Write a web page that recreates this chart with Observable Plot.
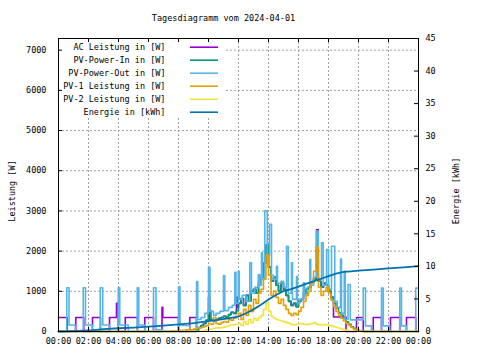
<!DOCTYPE html>
<html><head><meta charset="utf-8">
<script src="https://cdn.jsdelivr.net/npm/d3@7"></script>
<script src="https://cdn.jsdelivr.net/npm/@observablehq/plot@0.6"></script>
<style>
body{margin:0;background:#fff}
#chart svg{display:block;background:#fff}
</style></head><body><div id="chart"></div>
<script>
const title = "Tagesdiagramm vom 2024-04-01";
const yLabelLeft = "Leistung [W]";
const yLabelRight = "Energie [kWh]";
const xTicks = [0,2,4,6,8,10,12,14,16,18,20,22,24];
const xTickLabels = ["00:00","02:00","04:00","06:00","08:00","10:00","12:00","14:00","16:00","18:00","20:00","22:00","00:00"];
const powerTicks = [0,1000,2000,3000,4000,5000,6000,7000];
const energyTicks = [0,5,10,15,20,25,30,35,40,45];
const powerMax = 7290;
const energyMax = 45;
const seriesNames = ["AC Leistung in [W]","PV-Power-In in [W]","PV-Power-Out in [W]","PV-1 Leistung in [W]","PV-2 Leistung in [W]","Energie in [kWh]"];
const seriesColors = ["#9400d3","#009e73","#56b4e9","#e69f00","#f0e442","#0072b2"];

const acLeistung = [["00:00",350],["00:35",0],["01:09",350],["01:41",0],["02:16",350],["02:48",0],["03:24",350],["03:52",700],["03:59",0],["04:27",350],["05:16",0],["05:45",350],["06:20",0],["06:54",600],["06:57",350],["08:00",0],["08:45",350],["09:12",30],["09:20",100],["09:30",150],["09:40",200],["09:50",280],["10:00",850],["10:05",300],["10:20",260],["10:30",300],["10:40",330],["10:50",350],["11:00",380],["11:10",350],["11:20",420],["11:30",480],["11:40",450],["11:52",850],["11:57",600],
["12:00",700],["12:10",820],["12:20",650],["12:30",900],["12:40",760],["12:50",1000],["13:00",1050],["13:10",950],["13:20",1200],["13:30",1350],["13:40",1700],["13:50",2150],["14:00",1600],["14:10",1250],["14:20",1350],["14:30",1150],["14:40",1000],["14:50",1200],["15:00",1050],["15:10",900],["15:20",750],["15:30",650],["15:40",700],["15:50",620],["16:00",750],["16:10",800],["16:20",950],["16:30",1050],["16:40",1100],["16:50",1200],["17:00",1300],["17:12",2530],["17:19",1250],["17:30",1100],["17:40",1200],["17:50",1150],["18:00",1000],["18:10",850],["18:20",360],["19:10",0],["19:52",350],["20:19",0],["20:59",350],["21:32",0],["22:08",350],["22:45",0],["23:12",350],["23:49",0],["24:00",0]];

const pvPowerIn = [["00:00",0],["09:10",30],["09:20",100],["09:30",150],["09:40",200],["09:50",280],["10:00",520],["10:10",300],["10:20",260],["10:30",300],["10:40",330],["10:50",350],["11:00",380],["11:10",350],["11:20",420],["11:30",480],["11:40",450],["11:50",520],["12:00",700],["12:10",820],["12:20",650],["12:30",900],["12:40",760],["12:50",1000],["13:00",1050],["13:10",950],["13:20",1200],["13:30",1350],["13:40",1700],["13:50",2150],["14:00",1600],["14:10",1250],["14:20",1350],["14:30",1150],["14:40",1000],["14:50",1200],["15:00",1050],["15:10",900],["15:20",750],["15:30",650],["15:40",700],["15:50",620],["16:00",750],["16:10",800],["16:20",950],["16:30",1050],["16:40",1100],["16:50",1200],["17:00",1300],["17:10",1350],["17:20",1250],["17:30",1100],["17:40",1200],["17:50",1150],["18:00",1000],["18:10",850],["18:20",700],["18:30",580],["18:40",470],["18:50",400],["19:00",320],["19:10",240],["19:20",180],["19:30",120],["19:40",80],["19:50",45],["20:00",25],["20:10",8],["20:20",0],["24:00",0]];

const pvPowerOut = [["00:00",0],["00:33",1090],["00:42",160],["01:07",0],["01:39",1090],["01:48",160],["02:15",0],["02:47",1090],["02:57",160],["03:24",0],["03:59",1090],["04:05",160],["04:39",0],["05:15",1090],["05:21",160],["05:45",0],["06:20",1090],["06:30",40],["06:57",0],["08:00",1110],["08:06",150],["08:45",0],["09:12",1240],["09:17",300],["09:30",350],["09:45",450],["10:00",1600],["10:06",500],["10:20",400],["10:30",450],["10:45",500],["11:00",1390],["11:05",520],["11:20",600],["11:35",650],["11:45",1470],["11:50",700],["11:59",1500],["12:03",800],["12:15",900],["12:30",750],["12:45",1710],["12:52",950],["13:05",1100],["13:19",1420],["13:25",1150],["13:32",1960],["13:36",1300],["13:45",3000],["13:55",1900],["14:04",2670],["14:12",1400],["14:20",1300],["14:32",1620],["14:36",1200],["14:50",1250],["15:00",1100],["15:12",2120],["15:19",950],["15:32",1710],["15:36",800],["15:52",1370],["15:56",700],["16:05",800],["16:19",1210],["16:25",900],["16:35",1100],["16:45",1790],["16:49",1150],["17:00",1350],["17:12",2500],["17:19",1300],["17:32",2210],["17:39",1150],["17:52",2040],["18:00",1050],["18:12",2120],["18:25",750],["18:35",600],["18:48",1800],["18:52",450],["19:03",1500],["19:07",300],["19:18",1170],["19:27",290],["20:19",1080],["20:28",140],["20:52",0],["21:32",1080],["21:39",140],["22:05",0],["22:45",1080],["22:52",140],["23:12",0],["23:49",1080],["24:00",1080]];

const pv1Leistung = [["00:00",0],["07:30",20],["08:00",30],["08:30",40],["09:00",60],["09:10",80],["09:20",90],["09:30",100],["09:40",120],["09:50",150],["10:00",200],["10:10",180],["10:20",350],["10:30",200],["10:40",180],["10:50",220],["11:00",250],["11:10",230],["11:20",300],["11:30",280],["11:40",330],["11:50",380],["12:00",450],["12:10",300],["12:20",550],["12:30",400],["12:40",650],["12:50",500],["13:00",800],["13:10",700],["13:20",950],["13:30",1050],["13:40",1300],["13:50",1900],["14:00",1400],["14:10",900],["14:20",1000],["14:30",850],["14:40",700],["14:50",800],["15:00",650],["15:10",550],["15:20",450],["15:30",400],["15:40",450],["15:50",420],["16:00",500],["16:10",600],["16:20",750],["16:30",900],["16:40",1000],["16:50",1200],["17:00",1500],["17:10",2100],["17:20",1100],["17:30",900],["17:40",1000],["17:50",1100],["18:00",950],["18:10",780],["18:20",620],["18:30",500],["18:40",400],["18:50",330],["19:00",260],["19:10",200],["19:20",150],["19:30",100],["19:40",60],["19:50",35],["20:00",15],["20:10",0],["24:00",0]];

const pv2Leistung = [["00:00",0],["09:30",10],["09:40",20],["09:50",40],["10:00",60],["10:10",70],["10:20",80],["10:30",90],["10:40",90],["10:50",100],["11:00",110],["11:10",130],["11:20",150],["11:30",160],["11:40",170],["11:50",180],["12:00",200],["12:10",150],["12:20",250],["12:30",180],["12:40",300],["12:50",220],["13:00",330],["13:10",280],["13:20",350],["13:30",400],["13:40",550],["13:50",700],["14:00",500],["14:10",380],["14:20",330],["14:30",300],["14:40",280],["14:50",260],["15:00",240],["15:10",220],["15:20",200],["15:30",170],["15:40",160],["15:50",180],["16:00",200],["16:10",190],["16:20",180],["16:30",170],["16:40",180],["16:50",200],["17:00",220],["17:10",180],["17:20",170],["17:30",160],["17:40",170],["17:50",160],["18:00",150],["18:10",140],["18:20",120],["18:30",100],["18:40",80],["18:50",60],["19:00",40],["19:10",30],["19:20",20],["19:30",10],["19:40",0],["24:00",0]];

const energie = [["00:00",0],["01:00",0.05],["02:00",0.15],["03:00",0.35],["04:00",0.5],["05:00",0.6],["06:00",0.75],["07:00",0.9],["08:00",1.1],["09:00",1.3],["10:00",1.6],["11:00",1.9],["12:00",2.3],["12:30",2.8],["13:00",3.4],["13:30",4.1],["14:00",4.9],["14:30",5.6],["15:00",6.2],["15:30",6.5],["16:00",6.9],["16:30",7.3],["17:00",7.7],["17:30",8.1],["18:00",8.5],["18:30",8.9],["19:00",9.15],["19:30",9.25],["20:00",9.35],["21:00",9.5],["22:00",9.7],["23:00",9.85],["24:00",10.05]];

// ---- layout helpers ----
const W = 480, H = 360, mL = 58, mR = 62, mT = 38, mB = 29;
const plotW = W - mL - mR, plotH = H - mT - mB;
const eScale = powerMax / energyMax;
const toH = s => { const [h, m] = s.split(":").map(Number); return h + m / 60; };
const rows = (arr, f = 1) => arr.map(([t, v]) => ({h: toH(t), v: v * f}));
const hx = px => (px - mL) / plotW * 24;          // pixel -> hours
const vy = px => (H - mB - px) / plotH * powerMax; // pixel -> watts
const hPerPx = 24 / plotW, wPerPx = powerMax / plotH;

const lineSeries = [acLeistung, pvPowerIn, pvPowerOut, pv1Leistung, pv2Leistung];
const legend = seriesNames.map((name, i) => ({name, color: seriesColors[i], y: vy(46.7 + 13 * i)}));

const font = "'DejaVu Sans Mono', monospace";
const grid = {stroke: "#a0a0a0", strokeDasharray: "2,2", strokeWidth: 1};

const marks = [
  Plot.ruleX(xTicks.slice(1, -1), {...grid}),
  Plot.ruleY(powerTicks.slice(1), {...grid}),
  Plot.rect([0], {x1: 0, x2: hx(225), y1: vy(116), y2: powerMax, fill: "white"}),
  ...lineSeries.map((s, i) => Plot.line(rows(s), {x: "h", y: "v", stroke: seriesColors[i], strokeWidth: 1.6, curve: "step-after"})),
  Plot.line(rows(energie, eScale), {x: "h", y: "v", stroke: seriesColors[5], strokeWidth: 1.8}),
  // legend
  Plot.text(legend, {x: hx(165), y: "y", text: "name", textAnchor: "end", fontSize: 8.5, fill: "black"}),
  Plot.ruleY(legend, {y: "y", x1: hx(190), x2: hx(218), stroke: "color", strokeWidth: 1.6}),
  // inward ticks
  Plot.ruleY(powerTicks, {x1: 0, x2: 4 * hPerPx, stroke: "black"}),
  Plot.ruleY(energyTicks.map(k => k * eScale), {x1: 24 - 4 * hPerPx, x2: 24, stroke: "black"}),
  Plot.ruleX(xTicks, {y1: 0, y2: 4 * wPerPx, stroke: "black"}),
  Plot.ruleX(xTicks, {y1: powerMax - 4 * wPerPx, y2: powerMax, stroke: "black"}),
  Plot.frame({stroke: "black"}),
  // axes
  Plot.axisX(xTicks, {tickSize: 0, tickPadding: 6, tickFormat: d => xTickLabels[xTicks.indexOf(d)], label: null, fontSize: 8.5}),
  Plot.axisY(powerTicks, {anchor: "left", tickSize: 0, tickPadding: 12, tickFormat: d => String(d), label: null, fontSize: 8.5}),
  Plot.axisY(energyTicks.map(k => k * eScale), {anchor: "right", tickSize: 0, tickPadding: 7, tickFormat: d => String(Math.round(d / eScale)), label: null, fontSize: 8.5}),
  // texts
  Plot.text([title], {frameAnchor: "top", dx: -15, dy: -20, lineAnchor: "middle", textAnchor: "middle", fontSize: 8.5}),
  Plot.text([yLabelLeft], {frameAnchor: "left", rotate: -90, dx: -46, dy: 6, textAnchor: "middle", lineAnchor: "middle", fontSize: 8.5}),
  Plot.text([yLabelRight], {frameAnchor: "right", rotate: -90, dx: 38, dy: 6, textAnchor: "middle", lineAnchor: "middle", fontSize: 8.5})
];

const chart = Plot.plot({
  width: W, height: H,
  marginLeft: mL, marginRight: mR, marginTop: mT, marginBottom: mB,
  x: {domain: [0, 24], axis: null},
  y: {domain: [0, powerMax], axis: null},
  color: {type: "identity"},
  style: {fontFamily: font, fontSize: "8.5px", color: "black", background: "white"},
  marks
});
document.getElementById("chart").appendChild(chart);
</script></body></html>
